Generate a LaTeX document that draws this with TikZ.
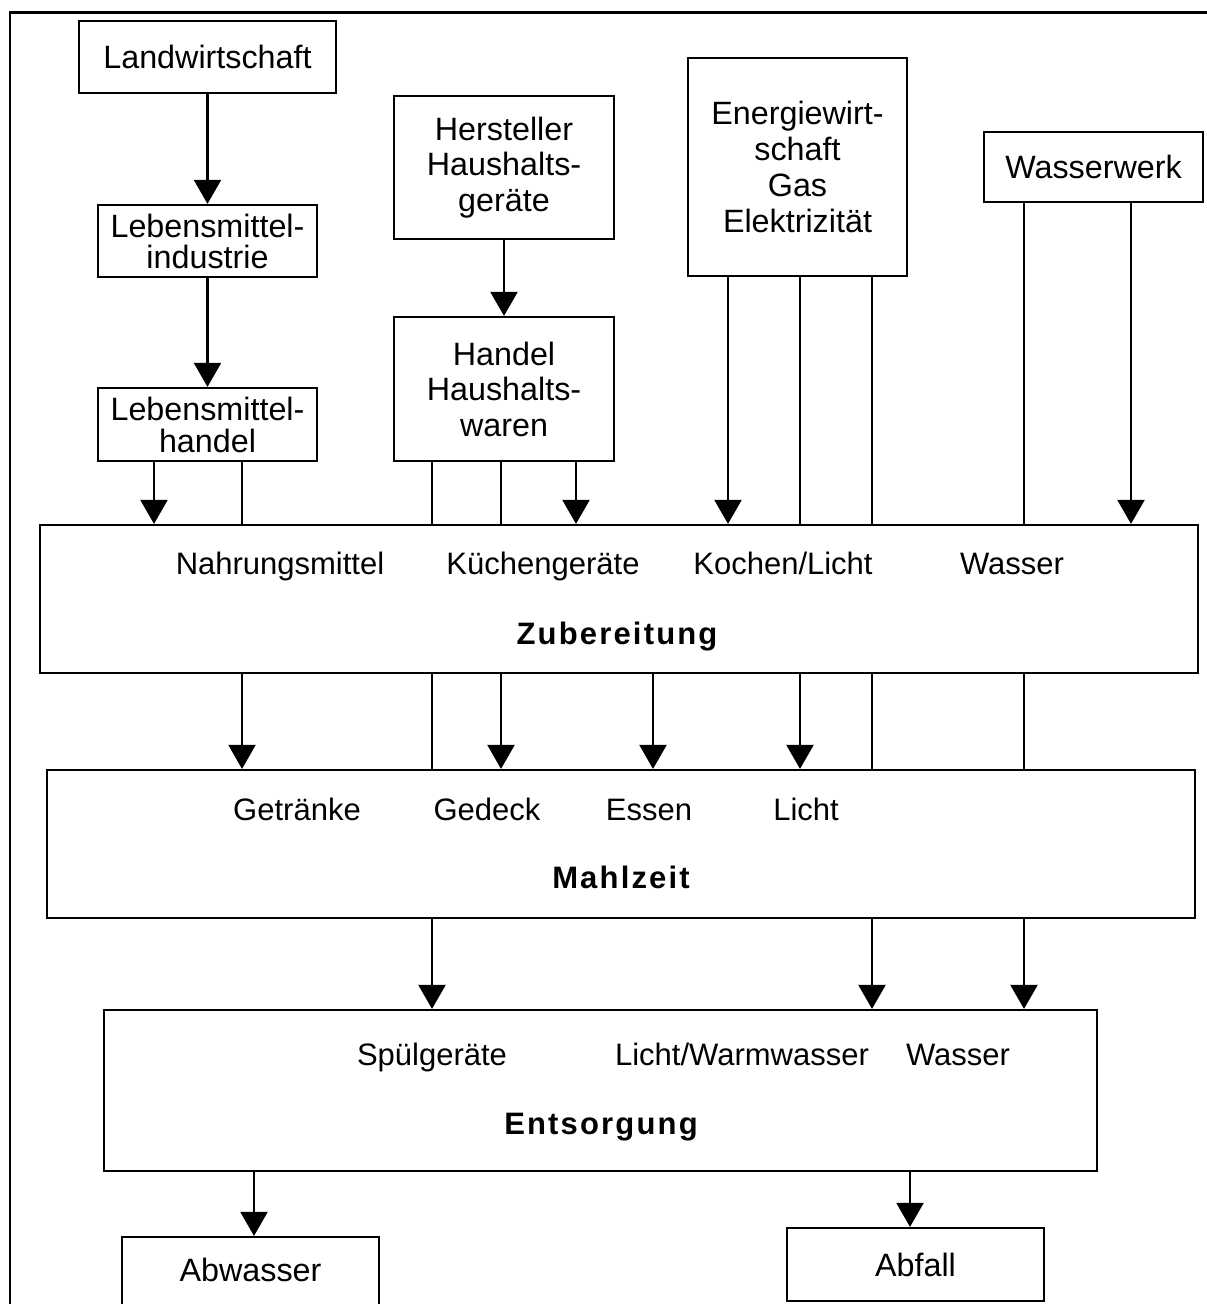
\documentclass[tikz,border=0pt]{standalone}
\usepackage{fontspec}
\setmainfont{Liberation Sans}
\newfontfamily\spacedfont[LetterSpace=7]{Liberation Sans}
\usetikzlibrary{arrows.meta}
\begin{document}
\begin{tikzpicture}[x=1pt,y=-1pt,
  box/.style={draw, line width=2.2pt, inner sep=0pt, align=center, font=\fontsize{32.3}{35.5}\selectfont},
  lbl/.style={inner sep=0pt, anchor=base, font=\fontsize{31}{34}\selectfont},
  ttl/.style={inner sep=0pt, anchor=base, font=\spacedfont\bfseries\fontsize{31}{34}\selectfont},
  arr/.style={line width=2.2pt, -{Triangle[width=27pt,length=24pt]}},
  ln/.style={line width=2.2pt},
]
\useasboundingbox (0,0) rectangle (1207,1304);
\clip (0,0) rectangle (1207,1304);
\fill[white] (0,0) rectangle (1207,1304);
% outer frame (cut by the page edge)
\draw[line width=2.2pt] (10,1330) -- (10,12.5) -- (1230,12.5);

% column coordinates
\foreach \n/\x in {a/154,b/242,c/432,d/501,e/576,f/728,g/800,h/872,i/1024,j/1131,k/653,l/254,m/910}
  \coordinate (c\n) at (\x,0);

% upper boxes
\node[box, minimum width=257pt, minimum height=72pt] (lw) at (207.5,57) {Landwirtschaft};
\node[box, minimum width=219pt, minimum height=72pt, font=\fontsize{32.3}{31}\selectfont] (lmi) at (207.5,241) {Lebensmittel-\\industrie};
\node[box, minimum width=219pt, minimum height=73pt, font=\fontsize{32.3}{32}\selectfont] (lmh) at (207.5,424.5) {Lebensmittel-\\handel};
\node[box, minimum width=220pt, minimum height=143pt] (hhg) at (504,167.5) {Hersteller\\Haushalts-\\geräte};
\node[box, minimum width=220pt, minimum height=144pt] (hhw) at (504,389) {Handel\\Haushalts-\\waren};
\node[box, minimum width=219pt, minimum height=218pt, font=\fontsize{32.3}{36}\selectfont] (ew) at (797.5,167) {Energiewirt-\\schaft\\Gas\\Elektrizität};
\node[box, minimum width=219pt, minimum height=70pt] (ww) at (1093.5,167) {Wasserwerk};

% big boxes
\node[box, minimum width=1158pt, minimum height=148pt] (zub) at (619,599) {};
\node[box, minimum width=1148pt, minimum height=148pt] (mz) at (621,844) {};
\node[box, minimum width=993pt, minimum height=161pt] (ent) at (600.5,1090.5) {};

% bottom boxes
\node[box, minimum width=257pt, minimum height=110pt] (abw) at (250.5,1292) {};
\node[lbl, font=\fontsize{32.3}{34}\selectfont] (abwt) at (250.5,1281) {Abwasser};
\node[box, minimum width=257pt, minimum height=73pt] (abf) at (915.5,1264.5) {Abfall};

% labels in Zubereitung
\node[lbl] (zl1) at (280,574) {Nahrungsmittel};
\node[lbl] (zl2) at (543,574) {Küchengeräte};
\node[lbl] (zl3) at (783,574) {Kochen/Licht};
\node[lbl] (zl4) at (1012,574) {Wasser};
\node[ttl] (zt) at (617,644) {Zubereitung};

% labels in Mahlzeit
\node[lbl] (ml1) at (297,820) {Getränke};
\node[lbl] (ml2) at (487,820) {Gedeck};
\node[lbl] (ml3) at (649,820) {Essen};
\node[lbl] (ml4) at (806,820) {Licht};
\node[ttl] (mt) at (621,888) {Mahlzeit};

% labels in Entsorgung
\node[lbl] (el1) at (432,1065) {Spülgeräte};
\node[lbl] (el2) at (742,1065) {Licht/Warmwasser};
\node[lbl] (el3) at (958,1065) {Wasser};
\node[ttl] (et) at (601,1134) {Entsorgung};

% connectors, top part
\draw[arr] (lw) -- (lmi);
\draw[arr] (lmi) -- (lmh);
\draw[arr] (hhg) -- (hhw);

% into Zubereitung
\draw[arr] (lmh.south -| ca) -- (zub.north -| ca);
\draw[ln]  (lmh.south -| cb) -- (zub.north -| cb);
\draw[ln]  (hhw.south -| cc) -- (zub.north -| cc);
\draw[ln]  (hhw.south -| cd) -- (zub.north -| cd);
\draw[arr] (hhw.south -| ce) -- (zub.north -| ce);
\draw[arr] (ew.south -| cf) -- (zub.north -| cf);
\draw[ln]  (ew.south -| cg) -- (zub.north -| cg);
\draw[ln]  (ew.south -| ch) -- (zub.north -| ch);
\draw[ln]  (ww.south -| ci) -- (zub.north -| ci);
\draw[arr] (ww.south -| cj) -- (zub.north -| cj);

% Zubereitung to Mahlzeit
\draw[arr] (zub.south -| cb) -- (mz.north -| cb);
\draw[ln]  (zub.south -| cc) -- (mz.north -| cc);
\draw[arr] (zub.south -| cd) -- (mz.north -| cd);
\draw[arr] (zub.south -| ck) -- (mz.north -| ck);
\draw[arr] (zub.south -| cg) -- (mz.north -| cg);
\draw[ln]  (zub.south -| ch) -- (mz.north -| ch);
\draw[ln]  (zub.south -| ci) -- (mz.north -| ci);

% Mahlzeit to Entsorgung
\draw[arr] (mz.south -| cc) -- (ent.north -| cc);
\draw[arr] (mz.south -| ch) -- (ent.north -| ch);
\draw[arr] (mz.south -| ci) -- (ent.north -| ci);

% Entsorgung to outputs
\draw[arr] (ent.south -| cl) -- (abw.north -| cl);
\draw[arr] (ent.south -| cm) -- (abf.north -| cm);
\end{tikzpicture}
\end{document}
